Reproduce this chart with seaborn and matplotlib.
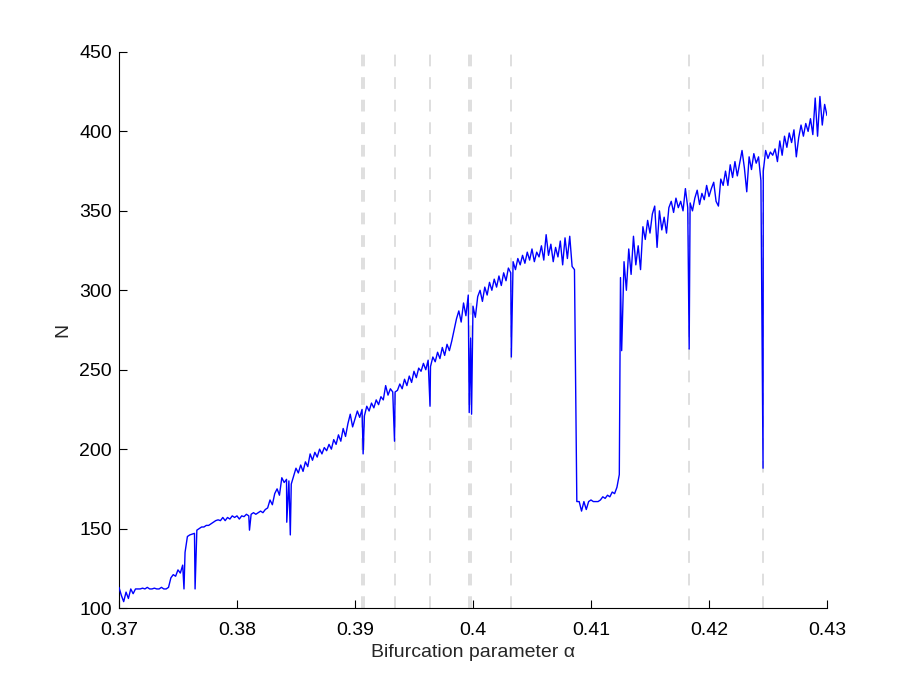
import numpy as np
import pandas as pd
import matplotlib
matplotlib.use("Agg")
import matplotlib.pyplot as plt
import seaborn as sns

# Base sweep: alpha from 0.37 to 0.43 in steps of 0.0002
alpha_start = 0.37
alpha_step = 0.0002
N_base = [
    113, 108, 104, 110, 106, 112, 109,
    112, 112, 112, 112.5, 112, 113, 112, 112, 112.5, 112, 112, 113, 112, 112, 113,
    119, 121, 120, 124, 122, 127,
    135, 145, 146, 146.5, 147,
    149, 150, 151, 151, 152, 152, 153, 154, 155, 155.5, 155, 157, 155, 157, 156, 158,
    157, 158, 156, 158, 157.5, 159,
    158, 159, 160, 159, 160, 161, 160, 162, 163, 168, 165, 172, 175, 171, 182, 179, 181,
    180, 178,
    183, 188, 185, 190, 186, 192, 189, 197, 193, 198, 195, 200, 197, 201, 199, 203, 200,
    206, 203, 209, 205, 213, 208, 216, 222, 214, 219, 224, 220, 225,
    221, 227, 224, 229, 226, 231, 228, 233, 231, 240, 234, 238, 236,
    236, 237, 241, 238, 244, 240, 246, 242, 249, 245, 251, 249, 254, 250, 256,
    252, 258, 255, 261, 257, 264, 259, 266, 262, 268, 275, 282, 287, 280, 292, 284, 297,
    270,
    290, 283, 296, 300, 293, 302, 297, 305, 300, 307, 302, 309, 303, 311, 306, 314,
    311, 318, 313, 320, 316, 322, 317, 324, 319, 326, 318, 324, 321, 328, 319, 335, 322,
    329, 318, 327, 321, 331, 316, 333, 320, 334, 315, 313,
    167, 167, 161, 167, 162, 167, 168, 167, 167, 167, 168, 170, 169, 171, 170, 173, 172,
    176, 184,
    262, 318, 300, 326, 310, 334, 316, 328, 313, 340, 332, 344, 336, 348, 353, 327, 350,
    338, 346, 336, 352, 356, 349, 358, 352, 356, 350, 364, 352,
    355, 350, 358, 363, 354, 361, 357, 366, 359, 364, 368, 356, 353, 370, 366, 375, 366,
    379, 371, 381, 372, 380, 388, 377, 362, 384, 376, 386, 380, 384, 369,
    375, 388, 383, 387, 385, 389, 381, 394, 385, 397, 390, 399, 393, 401, 384, 396, 404,
    397, 405, 400, 408, 398, 421, 397, 422, 404, 417, 410,
]

# Single-sample excursions (sharp dips) between sweep points
spike_alpha = [0.37551, 0.37645, 0.38106, 0.38422, 0.38452, 0.39069, 0.39335,
               0.39636, 0.39968, 0.39988, 0.40325, 0.41250, 0.41832, 0.42458]
spike_N = [112, 112, 149, 154, 146, 197, 205, 227, 223, 222, 258, 308, 263, 188]

# Vertical dashed reference lines
vline_alpha = [0.39062, 0.39074, 0.39339, 0.39636, 0.39968, 0.39984, 0.40322,
               0.41832, 0.42458]

xticks = [0.37, 0.38, 0.39, 0.40, 0.41, 0.42, 0.43]
xtick_labels = ["0.37", "0.38", "0.39", "0.4", "0.41", "0.42", "0.43"]
yticks = [100, 150, 200, 250, 300, 350, 400, 450]

alpha_base = alpha_start + alpha_step * np.arange(len(N_base))
df = pd.DataFrame({
    "alpha": np.concatenate([alpha_base, spike_alpha]),
    "N": np.concatenate([np.asarray(N_base, float), spike_N]),
}).sort_values("alpha").reset_index(drop=True)

sns.set_style("ticks")
plt.rcParams["font.family"] = ["Liberation Sans", "DejaVu Sans"]
plt.rcParams["xtick.direction"] = "in"
plt.rcParams["ytick.direction"] = "in"

fig = plt.figure(figsize=(9.13, 6.84), dpi=100)
ax = fig.add_axes([0.1303, 0.1111, 0.7755, 0.8129])

for xv in vline_alpha:
    ax.axvline(xv, color="#dcdcdc", lw=1.3, ls=(0, (6.5, 6)), zorder=1)

sns.lineplot(data=df, x="alpha", y="N", estimator=None, sort=False,
             color="#0000ff", lw=1.0, ax=ax, zorder=3)

ax.set_xlim(0.37, 0.43)
ax.set_ylim(100, 450)
ax.set_xticks(xticks)
ax.set_xticklabels(xtick_labels)
ax.set_yticks(yticks)
ax.tick_params(axis="both", labelsize=14, length=5.5, width=0.8, colors="black")
ax.tick_params(axis="x", pad=10)
ax.tick_params(axis="y", pad=5)
ax.set_xlabel("Bifurcation parameter α", fontsize=14, labelpad=4)
ax.set_ylabel("N", fontsize=14, labelpad=6)
for s in ["top", "right"]:
    ax.spines[s].set_visible(False)
for s in ["left", "bottom"]:
    ax.spines[s].set_linewidth(0.8)
    ax.spines[s].set_color("black")

fig.savefig("out.png", dpi=100)
